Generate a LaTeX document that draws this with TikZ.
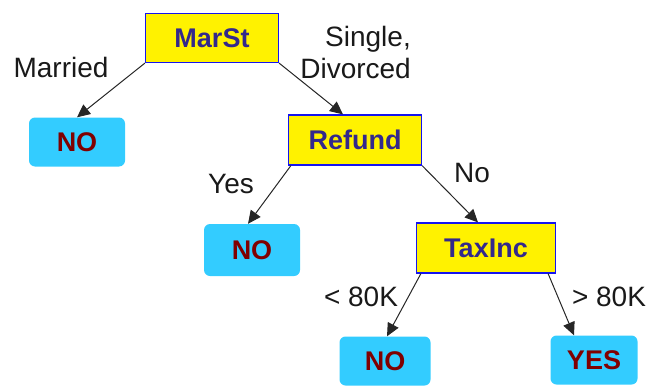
\documentclass[tikz,border=0pt]{standalone}
\usepackage{fontspec}
\setmainfont{Liberation Sans}
\usetikzlibrary{arrows.meta}
\definecolor{boxtext}{RGB}{51,40,140}
\definecolor{leaftext}{RGB}{128,0,0}
\definecolor{leaffill}{RGB}{51,204,255}
\definecolor{boxborder}{RGB}{20,20,240}
\tikzset{
  attr/.style={draw=boxborder, line width=1.2pt, fill=yellow, text=boxtext,
    font=\fontsize{27}{30}\selectfont\bfseries, inner sep=0pt},
  leaf/.style={fill=leaffill, rounded corners=6pt, text=leaftext,
    font=\fontsize{27}{30}\selectfont\bfseries, inner sep=0pt,
    minimum width=96pt, minimum height=49pt},
  lbl/.style={font=\fontsize{28}{32}\selectfont, text=black!90, inner sep=0pt},
  edge/.style={draw=black!85, line width=1pt, -{Triangle[length=13pt,width=12pt]}}
}
\begin{document}
\begin{tikzpicture}[x=1pt,y=-1pt]
\useasboundingbox (0,0) rectangle (660,385);
\node[attr, minimum width=133pt, minimum height=49pt] (marst) at (212,38) {MarSt};
\node[leaf] (no1) at (77,142) {NO};
\node[attr, minimum width=133pt, minimum height=50pt] (refund) at (355,140) {Refund};
\node[leaf, minimum height=52pt] (no2) at (252,250) {NO};
\node[attr, minimum width=139pt, minimum height=50pt] (taxinc) at (486,248) {TaxInc};
\node[leaf, minimum width=91pt] (no3) at (385,361) {NO};
\node[leaf, minimum width=87pt] (yes) at (594,360) {YES};

\draw[edge] (marst.south west) -- (no1.north);
\draw[edge] (marst.south east) -- ([xshift=-12pt]refund.north);
\draw[edge] ([xshift=3pt]refund.south west) -- ([xshift=-4pt]no2.north);
\draw[edge] (refund.south east) -- ([xshift=-8pt]taxinc.north);
\draw[edge] ([xshift=5pt]taxinc.south west) -- ([xshift=2pt]no3.north);
\draw[edge] ([xshift=-8pt]taxinc.south east) -- ([xshift=-20pt]yes.north);

\node[lbl] (lmarried) at (61,67) {Married};
\node[lbl, align=right, anchor=east] (lsingle) at (411,52) {Single,\\Divorced};
\node[lbl] (lyes) at (231,184) {Yes};
\node[lbl] (lno) at (472,173) {No};
\node[lbl] (llt) at (361,297) {< 80K};
\node[lbl] (lgt) at (609,297) {> 80K};
\end{tikzpicture}
\end{document}
